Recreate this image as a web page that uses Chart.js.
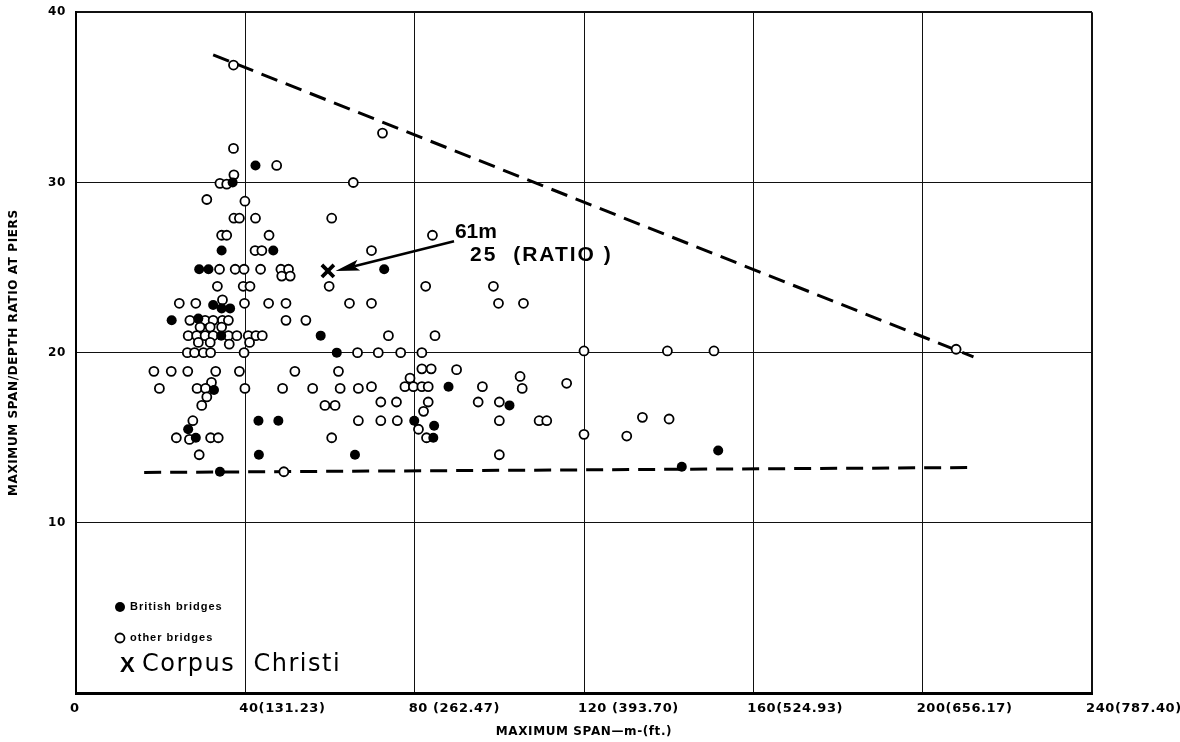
<!DOCTYPE html>
<html><head><meta charset="utf-8">
<script src="https://cdn.jsdelivr.net/npm/chart.js@4.4.1/dist/chart.umd.min.js"></script>
<style>html,body{margin:0;padding:0;background:#fff;overflow:hidden}#wrap{width:1180px;height:742px}</style>
</head><body><div id="wrap"><canvas id="c" width="1180" height="742"></canvas></div>
<script>
// ---- tick labels ----
const xTickValues = [0, 40, 80, 120, 160, 200, 240];
const xTickLabels = ['0', '40(131.23)', '80 (262.47)', '120 (393.70)', '160(524.93)', '200(656.17)', '240(787.40)'];
const yTickValues = [0, 10, 20, 30, 40];
const yTickLabels = ['', '10', '20', '30', '40'];
const xTitle = 'MAXIMUM SPAN\u2014m-(ft.)';
const yTitle = 'MAXIMUM SPAN/DEPTH RATIO AT PIERS';

// ---- British bridges (filled) ----
const britishX = [42.4, 37.0, 34.4, 46.6, 29.1, 31.3, 72.8, 32.4, 34.4, 36.4, 22.6, 28.9, 34.3, 57.8, 61.6, 32.6, 43.1, 47.8, 26.5, 28.3, 43.2, 65.9, 34.0, 88.0, 102.4, 79.9, 84.6, 84.4, 143.1, 151.7];
const britishY = [31.0, 30.0, 26.0, 26.0, 24.9, 24.9, 24.9, 22.8, 22.6, 22.6, 21.9, 22.0, 21.0, 21.0, 20.0, 17.8, 16.0, 16.0, 15.5, 15.0, 14.0, 14.0, 13.0, 18.0, 16.9, 16.0, 15.7, 15.0, 13.3, 14.25];

// ---- other bridges (open) ----
const otherX = [37.2, 72.4, 37.2, 47.4, 37.3, 34.0, 35.6, 65.5, 30.9, 39.9, 37.3, 38.6, 42.4, 60.4, 34.4, 35.6, 45.6, 84.2, 42.3, 43.9, 69.8,
  33.9, 37.6, 39.7, 43.6, 48.4, 50.2, 48.6, 50.6, 59.8, 33.4, 39.5, 41.1, 82.6, 98.6,
  24.4, 28.3, 34.6, 39.8, 45.5, 49.6, 64.6, 69.8, 99.8, 105.7,
  26.9, 30.5, 32.4, 34.6, 36.0, 49.6, 54.3, 29.3, 31.7, 34.4,
  26.5, 28.5, 30.5, 32.4, 36.0, 38.0, 40.7, 42.5, 44.0, 73.8, 84.8,
  28.9, 31.7, 36.2, 41.0,
  26.3, 28.0, 30.1, 31.8, 39.7, 66.5, 71.4, 76.7, 81.7, 120.0, 139.7, 150.7, 207.9,
  18.4, 22.5, 26.4, 33.0, 38.6, 51.7, 62.0, 81.7, 83.9, 89.9, 104.9, 78.9, 32.0,
  19.7, 28.6, 30.6, 39.9, 48.8, 55.9, 62.4, 66.7, 69.8, 77.7, 79.7, 81.7, 83.2, 96.0, 105.4, 115.9,
  30.9, 29.7, 58.8, 61.2, 72.0, 75.7, 83.2, 95.0, 100.0, 82.1,
  27.6, 66.7, 72.0, 75.9, 100.0, 109.4, 111.2, 133.8, 140.1, 80.9,
  23.7, 26.8, 31.8, 33.6, 60.4, 82.8, 120.0, 130.1,
  29.1, 100.0, 49.1];
const otherY = [36.9, 32.9, 32.0, 31.0, 30.45, 29.95, 29.9, 30.0, 29.0, 28.9, 27.9, 27.9, 27.9, 27.9, 26.9, 26.9, 26.9, 26.9, 26.0, 26.0, 26.0,
  24.9, 24.9, 24.9, 24.9, 24.9, 24.9, 24.5, 24.5, 23.9, 23.9, 23.9, 23.9, 23.9, 23.9,
  22.9, 22.9, 23.1, 22.9, 22.9, 22.9, 22.9, 22.9, 22.9, 22.9,
  21.9, 21.9, 21.9, 21.9, 21.9, 21.9, 21.9, 21.5, 21.5, 21.5,
  21.0, 21.0, 21.0, 21.0, 21.0, 21.0, 21.0, 21.0, 21.0, 21.0, 21.0,
  20.6, 20.6, 20.5, 20.6,
  20.0, 20.0, 20.0, 20.0, 20.0, 20.0, 20.0, 20.0, 20.0, 20.1, 20.1, 20.1, 20.2,
  18.9, 18.9, 18.9, 18.9, 18.9, 18.9, 18.9, 19.05, 19.05, 19.0, 18.6, 18.5, 18.25,
  17.9, 17.9, 17.9, 17.9, 17.9, 17.9, 17.9, 17.9, 18.0, 18.0, 18.0, 18.0, 18.0, 18.0, 17.9, 18.2,
  17.4, 16.9, 16.9, 16.9, 17.1, 17.1, 17.1, 17.1, 17.1, 16.55,
  16.0, 16.0, 16.0, 16.0, 16.0, 16.0, 16.0, 16.2, 16.1, 15.5,
  15.0, 14.9, 15.0, 15.0, 15.0, 15.0, 15.2, 15.1,
  14.0, 14.0, 13.0];

// ---- Corpus Christi ----
const corpusX = [59.5];
const corpusY = [24.8];

// ---- dashed envelope lines ----
const upperLineX = [32.4, 212.0];
const upperLineY = [37.5, 19.75];
const lowerLineX = [16.1, 212.4];
const lowerLineY = [12.96, 13.25];

// ---- annotation (data coords) ----
const annotationText = ['61m', '25  (RATIO )'];
const annotationTextX = [89.5, 93.1];
const annotationTextY = [27.1, 25.7];
const arrowFromX = 89.3, arrowFromY = 26.55;
const arrowToX = 61.3, arrowToY = 24.8;

const legendLabels = ['British bridges', 'other bridges', 'Corpus  Christi'];

const zip = (xs, ys) => xs.map((x, i) => ({x: x, y: ys[i]}));

const spacingPlugin = {
  id: 'spacing',
  beforeDraw(chart) { chart.ctx.letterSpacing = '0.6px'; },
  afterDraw(chart) { chart.ctx.letterSpacing = '0px'; }
};

const annotPlugin = {
  id: 'annot',
  afterDatasetsDraw(chart) {
    const ctx = chart.ctx, xs = chart.scales.x, ys = chart.scales.y, a = chart.chartArea;
    ctx.save();
    ctx.fillStyle = '#000'; ctx.strokeStyle = '#000';
    // arrow
    const x1 = xs.getPixelForValue(arrowFromX), y1 = ys.getPixelForValue(arrowFromY);
    const x2 = xs.getPixelForValue(arrowToX), y2 = ys.getPixelForValue(arrowToY);
    const ang = Math.atan2(y2 - y1, x2 - x1);
    const hl = 24, hw = 5.5;
    ctx.lineWidth = 2.6;
    ctx.beginPath(); ctx.moveTo(x1, y1);
    ctx.lineTo(x2 - Math.cos(ang) * hl * 0.8, y2 - Math.sin(ang) * hl * 0.8); ctx.stroke();
    ctx.beginPath();
    ctx.moveTo(x2, y2);
    ctx.lineTo(x2 - Math.cos(ang) * hl - Math.sin(ang) * hw, y2 - Math.sin(ang) * hl + Math.cos(ang) * hw);
    ctx.lineTo(x2 - Math.cos(ang) * hl * 0.8, y2 - Math.sin(ang) * hl * 0.8);
    ctx.lineTo(x2 - Math.cos(ang) * hl + Math.sin(ang) * hw, y2 - Math.sin(ang) * hl - Math.cos(ang) * hw);
    ctx.closePath(); ctx.fill();
    // annotation text
    ctx.textBaseline = 'middle'; ctx.textAlign = 'left';
    ctx.letterSpacing = '0px';
    ctx.font = 'bold 21px "Liberation Sans", Arial, sans-serif';
    ctx.fillText(annotationText[0], xs.getPixelForValue(annotationTextX[0]), ys.getPixelForValue(annotationTextY[0]));
    ctx.letterSpacing = '2px';
    ctx.font = 'bold 21px "Liberation Sans", Arial, sans-serif';
    ctx.fillText(annotationText[1], xs.getPixelForValue(annotationTextX[1]), ys.getPixelForValue(annotationTextY[1]));
    // legend
    const lx = a.left + 44;
    ctx.lineWidth = 1.8;
    ctx.beginPath(); ctx.arc(lx, a.bottom - 86, 5, 0, Math.PI * 2); ctx.fill();
    ctx.beginPath(); ctx.arc(lx, a.bottom - 55, 4.5, 0, Math.PI * 2); ctx.fillStyle = '#fff'; ctx.fill(); ctx.stroke();
    ctx.fillStyle = '#000';
    ctx.letterSpacing = '1px';
    ctx.font = 'bold 11px "Liberation Sans", Arial, sans-serif';
    ctx.fillText(legendLabels[0], lx + 10, a.bottom - 86);
    ctx.fillText(legendLabels[1], lx + 10, a.bottom - 55);
    ctx.letterSpacing = '0px';
    ctx.font = 'bold 22px "Liberation Sans", Arial, sans-serif';
    ctx.fillText('X', lx, a.bottom - 27);
    ctx.letterSpacing = '1.5px';
    ctx.font = '24px "DejaVu Sans", sans-serif';
    ctx.fillText(legendLabels[2], lx + 22, a.bottom - 28);
    ctx.restore();
  }
};

new Chart(document.getElementById('c'), {
  type: 'scatter',
  data: {
    datasets: [
      {label: 'Corpus Christi', data: zip(corpusX, corpusY), pointStyle: 'crossRot', pointRadius: 8.5, borderWidth: 3.8, borderColor: '#000', backgroundColor: '#000'},
      {label: 'British bridges', data: zip(britishX, britishY), pointRadius: 5, borderWidth: 0, backgroundColor: '#000', borderColor: '#000'},
      {label: 'other bridges', data: zip(otherX, otherY), pointRadius: 4.5, borderWidth: 1.8, backgroundColor: '#fff', borderColor: '#000'},
      {label: 'upper', type: 'line', data: zip(upperLineX, upperLineY), showLine: true, pointRadius: 0, borderWidth: 3, borderColor: '#000', borderDash: [17, 9], fill: false},
      {label: 'lower', type: 'line', data: zip(lowerLineX, lowerLineY), showLine: true, pointRadius: 0, borderWidth: 3, borderColor: '#000', borderDash: [17, 9], fill: false}
    ]
  },
  options: {
    responsive: false, animation: false, devicePixelRatio: 1,
    layout: {padding: {left: 0, top: 11, right: 88, bottom: 0}},
    plugins: {legend: {display: false}, tooltip: {enabled: false}},
    scales: {
      x: {
        type: 'linear', min: 0, max: 240,
        afterBuildTicks: s => { s.ticks = xTickValues.map(v => ({value: v})); },
        afterFit: s => { s.height = 49; s.paddingLeft = 0; s.paddingRight = 0; },
        ticks: {
          callback: v => xTickLabels[xTickValues.indexOf(v)],
          align: 'start', labelOffset: -6, padding: 8, maxRotation: 0, autoSkip: false,
          color: '#000', font: {family: '"DejaVu Sans", sans-serif', size: 13, weight: 'bold'}
        },
        grid: {color: '#111', lineWidth: c => (c.tick && c.tick.value === 240) ? 2 : 1, drawTicks: false},
        border: {display: true, color: '#000', width: 3},
        title: {display: true, text: xTitle, color: '#000', padding: {top: 2, bottom: 3}, font: {family: '"DejaVu Sans", sans-serif', size: 12, weight: 'bold'}}
      },
      y: {
        type: 'linear', min: 0, max: 40,
        afterBuildTicks: s => { s.ticks = yTickValues.map(v => ({value: v})); },
        afterFit: s => { s.width = 76; s.paddingTop = 0; s.paddingBottom = 0; },
        ticks: {
          callback: v => yTickLabels[yTickValues.indexOf(v)],
          padding: 10, color: '#000', font: {family: '"DejaVu Sans", sans-serif', size: 12, weight: 'bold'}
        },
        grid: {color: '#111', lineWidth: c => (c.tick && c.tick.value === 40) ? 2 : 1, drawTicks: false},
        border: {display: true, color: '#000', width: 2},
        title: {display: true, text: yTitle, color: '#000', padding: {top: 7, bottom: 0}, font: {family: '"DejaVu Sans", sans-serif', size: 12, weight: 'bold'}}
      }
    }
  },
  plugins: [spacingPlugin, annotPlugin]
});
</script></body></html>
